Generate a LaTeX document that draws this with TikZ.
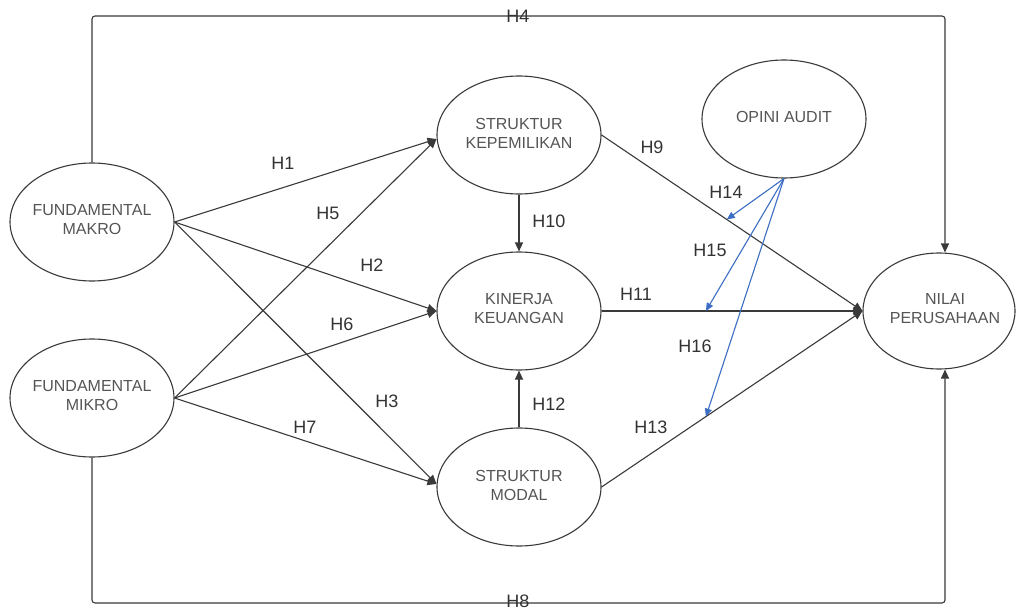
\documentclass[tikz,border=0pt]{standalone}
\usepackage{fontspec}
\setmainfont{Liberation Sans}
\usetikzlibrary{shapes.geometric,arrows.meta,calc}
\definecolor{ln}{HTML}{3A3A3A}
\definecolor{bl}{HTML}{3C6EC4}
\definecolor{nt}{HTML}{555555}
\definecolor{lt}{HTML}{333333}
\begin{document}
\begin{tikzpicture}[x=1pt,y=-1pt,
 ell/.style={draw=ln, line width=1.1pt, ellipse, minimum width=164pt, minimum height=118pt, inner sep=0pt},
 ntext/.style={text=nt, font=\fontsize{16}{19}\selectfont, align=center, inner sep=0pt, yshift=2pt},
 lab/.style={text=lt, font=\fontsize{18}{20}\selectfont, inner sep=0pt},
 conn/.style={draw=ln, line width=1.1pt, -{Triangle[length=9pt,width=8pt]}},
 blu/.style={draw=bl, line width=1.1pt, -{Triangle[length=8pt,width=7pt]}}]
\useasboundingbox (0,0) rectangle (1018,610);
\fill[white] (0,0) rectangle (1018,610);

% nodes
\node[ell, label={[ntext]center:{FUNDAMENTAL\\MAKRO}}] (makro) at (92,222) {};
\node[ell, label={[ntext]center:{FUNDAMENTAL\\MIKRO}}] (mikro) at (92,398) {};
\node[ell, label={[ntext]center:{STRUKTUR\\KEPEMILIKAN}}] (kep) at (519,135) {};
\node[ell, label={[ntext]center:{KINERJA\\KEUANGAN}}] (kin) at (519,311) {};
\node[ell, label={[ntext]center:{STRUKTUR\\MODAL}}] (modal) at (519,487) {};
\node[ell, label={[ntext]center:{OPINI AUDIT}}] (opini) at (784,119) {};
\node[ell, minimum width=152pt, minimum height=116pt,
      label={[ntext, xshift=6pt]center:{NILAI\\PERUSAHAAN}}] (nilai) at (939,311) {};

\coordinate (top) at (0,16);
\coordinate (bot) at (0,603);

% outer paths
\draw[conn, rounded corners=3pt] (makro.north) -- (makro.north |- top) -| ([xshift=6pt]nilai.north);
\draw[conn, rounded corners=3pt] (mikro.south) -- (mikro.south |- bot) -| ([xshift=6pt]nilai.south);

% left arrows
\draw[conn] (makro.east) -- ([yshift=-4pt]kep.west);
\draw[conn] (mikro.east) -- ([yshift=-4pt]kep.west);
\draw[conn] (makro.east) -- (kin.west);
\draw[conn] (mikro.east) -- (kin.west);
\draw[conn] (makro.east) -- ([yshift=3pt]modal.west);
\draw[conn] (mikro.east) -- ([yshift=3pt]modal.west);

% vertical arrows
\draw[conn] (kep.south) -- (kin.north);
\draw[conn] (modal.north) -- (kin.south);

% right arrows
\draw[conn] (kep.east) -- (nilai.west);
\draw[conn] (kin.east) -- (nilai.west);
\draw[conn] (modal.east) -- (nilai.west);

% points on lines
\path (kep.east) -- (nilai.west) coordinate[pos=0.48] (p9);
\path (kin.east) -- (nilai.west) coordinate[pos=0.40] (p11);
\path (modal.east) -- (nilai.west) coordinate[pos=0.40] (p13);

% blue moderation arrows
\draw[blu] (opini.south) -- (p9);
\draw[blu] (opini.south) -- (p11);
\draw[blu] (opini.south) -- (p13);

% labels
\node[lab] (l4) at (518,16) {H4};
\node[lab] (l8) at (518,601) {H8};
\node[lab] (l1) at (283,163) {H1};
\node[lab] (l5) at (328,213) {H5};
\node[lab] (l2) at (372,265) {H2};
\node[lab] (l6) at (342,324) {H6};
\node[lab] (l3) at (387,401) {H3};
\node[lab] (l7) at (305,427) {H7};
\node[lab] (l10) at (549,221) {H10};
\node[lab] (l12) at (549,404) {H12};
\node[lab] (l9) at (652,147) {H9};
\node[lab] (l11) at (636,294) {H11};
\node[lab] (l13) at (651,427) {H13};
\node[lab] (l14) at (726,192) {H14};
\node[lab] (l15) at (710,250) {H15};
\node[lab] (l16) at (695,346) {H16};
\end{tikzpicture}
\end{document}
